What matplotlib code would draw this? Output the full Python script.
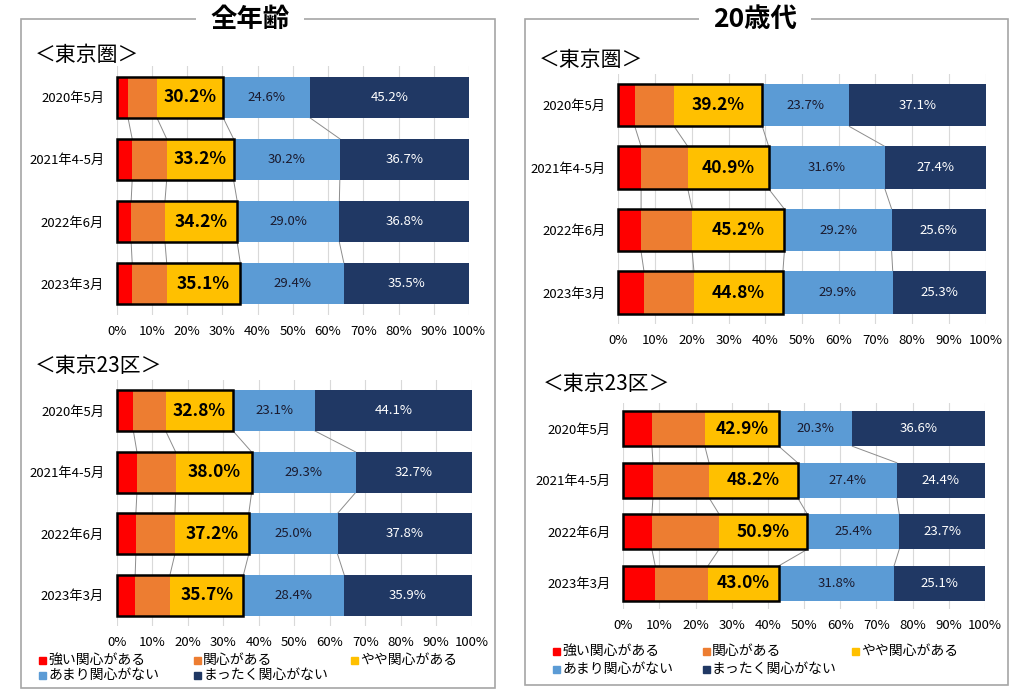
import matplotlib
matplotlib.use('Agg')
import matplotlib.pyplot as plt
from matplotlib.patches import Rectangle
import numpy as np

plt.rcParams['font.family'] = ['Noto Sans CJK JP', 'DejaVu Sans']

W, H = 1016, 690

periods = ['2020年5月', '2021年4-5月', '2022年6月', '2023年3月']
categories = ['強い関心がある', '関心がある', 'やや関心がある', 'あまり関心がない', 'まったく関心がない']
colors = ['#FF0000', '#ED7D31', '#FFC000', '#5B9BD5', '#203864']

# 全年齢・東京圏
all_ken_strong = [3.2, 4.4, 4.1, 4.4]
all_ken_some = [8.2, 9.8, 9.6, 9.8]
all_ken_little = [18.8, 19.0, 20.5, 20.9]
all_ken_notmuch = [24.6, 30.2, 29.0, 29.4]
all_ken_none = [45.2, 36.7, 36.8, 35.5]

# 全年齢・東京23区
all_23_strong = [4.7, 5.7, 5.4, 5.2]
all_23_some = [9.1, 10.9, 11.0, 9.8]
all_23_little = [19.0, 21.4, 20.8, 20.7]
all_23_notmuch = [23.1, 29.3, 25.0, 28.4]
all_23_none = [44.1, 32.7, 37.8, 35.9]

# 20歳代・東京圏
y20_ken_strong = [4.5, 6.2, 6.2, 7.0]
y20_ken_some = [10.7, 12.7, 13.9, 13.6]
y20_ken_little = [24.0, 22.0, 25.1, 24.2]
y20_ken_notmuch = [23.7, 31.6, 29.2, 29.9]
y20_ken_none = [37.1, 27.4, 25.6, 25.3]

# 20歳代・東京23区
y20_23_strong = [7.9, 8.2, 7.9, 8.8]
y20_23_some = [14.6, 15.5, 18.6, 14.6]
y20_23_little = [20.4, 24.5, 24.4, 19.6]
y20_23_notmuch = [20.3, 27.4, 25.4, 31.8]
y20_23_none = [36.6, 24.4, 23.7, 25.1]


def px_axes(fig, x0, x1, y0, y1):
    # ピクセル座標から axes を作る
    return fig.add_axes([x0 / W, 1 - y1 / H, (x1 - x0) / W, (y1 - y0) / H])


def draw_chart(ax, series, bar_h):
    data = np.array(series, dtype=float)
    shares = data / data.sum(axis=0) * 100
    cum = np.cumsum(shares, axis=0)
    y = np.arange(len(periods))

    left = np.zeros(len(periods))
    for vals, c in zip(shares, colors):
        ax.barh(y, vals, left=left, height=bar_h, color=c, zorder=2)
        left += vals

    # 上位3区分の枠
    ax.barh(y, cum[2], height=bar_h, fill=False, edgecolor='black',
            linewidth=1.8, zorder=4, clip_on=False)

    # 区分線
    for k in range(4):
        for i in range(len(periods) - 1):
            ax.plot([cum[k, i], cum[k, i + 1]], [i + bar_h / 2, i + 1 - bar_h / 2],
                    color='#8C8C8C', linewidth=0.7, zorder=1)

    top3 = data[:3].sum(axis=0)
    for i in range(len(periods)):
        ax.text((cum[1, i] + cum[2, i]) / 2, i, f'{top3[i]:.1f}%', ha='center', va='center',
                fontsize=12.5, fontweight='bold', color='black', zorder=5)
        ax.text((cum[2, i] + cum[3, i]) / 2, i, f'{data[3, i]:.1f}%', ha='center', va='center',
                fontsize=9.5, color='#1A1A2E', zorder=5)
        ax.text((cum[3, i] + cum[4, i]) / 2, i, f'{data[4, i]:.1f}%', ha='center', va='center',
                fontsize=9.5, color='white', zorder=5)

    ax.set_xlim(0, 100)
    ax.set_ylim(len(periods) - 0.5, -0.5)
    ax.set_xticks(np.arange(0, 101, 10))
    ax.set_xticklabels([f'{v}%' for v in range(0, 101, 10)], fontsize=9.5)
    ax.set_yticks(y)
    ax.set_yticklabels(periods, fontsize=9.5)
    ax.tick_params(axis='x', length=0, pad=7)
    ax.tick_params(axis='y', length=0, pad=9)
    ax.xaxis.grid(True, color='#D9D9D9', linewidth=0.8)
    ax.set_axisbelow(True)
    for s in ax.spines.values():
        s.set_visible(False)


def draw_panel(fig, x0, x1, y0, y1, title, tx, gap):
    fig.add_artist(Rectangle((x0 / W, 1 - y1 / H), (x1 - x0) / W, (y1 - y0) / H,
                             transform=fig.transFigure, fill=False,
                             edgecolor='#A6A6A6', linewidth=1.2))
    fig.text(tx / W, 1 - y0 / H, title, ha='center', va='center', fontsize=19,
             fontweight='bold', bbox=dict(facecolor='white', edgecolor='none', pad=gap))


def draw_legend(fig, xs, ys):
    for n, (name, c) in enumerate(zip(categories, colors)):
        col, row = n % 3, n // 3
        x, yy = xs[col], ys[row]
        fig.add_artist(Rectangle(((x - 1) / W, 1 - (yy + 4) / H), 7 / W, 7 / H,
                                 transform=fig.transFigure, color=c))
        fig.text((x + 8) / W, 1 - yy / H, name, ha='left', va='center', fontsize=10)


fig = plt.figure(figsize=(W / 100, H / 100), dpi=100)

# 全年齢
draw_panel(fig, 21, 495, 19, 688, '全年齢', 250, 10)
fig.text(35 / W, 1 - 55 / H, '＜東京圏＞', ha='left', va='center', fontsize=15)
ax1 = px_axes(fig, 116.7, 469, 66, 315)
draw_chart(ax1, [all_ken_strong, all_ken_some, all_ken_little, all_ken_notmuch, all_ken_none], 0.66)
fig.text(35 / W, 1 - 366 / H, '＜東京23区＞', ha='left', va='center', fontsize=15)
ax2 = px_axes(fig, 116.7, 471.7, 380, 626)
draw_chart(ax2, [all_23_strong, all_23_some, all_23_little, all_23_notmuch, all_23_none], 0.66)
draw_legend(fig, [40, 195, 352], [660, 675])

# 20歳代
draw_panel(fig, 525, 1008, 19, 685, '20歳代', 755, 10)
fig.text(539 / W, 1 - 60 / H, '＜東京圏＞', ha='left', va='center', fontsize=15)
ax3 = px_axes(fig, 618.3, 985.7, 74, 324)
draw_chart(ax3, [y20_ken_strong, y20_ken_some, y20_ken_little, y20_ken_notmuch, y20_ken_none], 0.68)
fig.text(543 / W, 1 - 384 / H, '＜東京23区＞', ha='left', va='center', fontsize=15)
ax4 = px_axes(fig, 623.3, 985, 403, 609)
draw_chart(ax4, [y20_23_strong, y20_23_some, y20_23_little, y20_23_notmuch, y20_23_none], 0.68)
draw_legend(fig, [554, 704, 853], [651, 669])

plt.savefig('out.png', dpi=100)
plt.close()
